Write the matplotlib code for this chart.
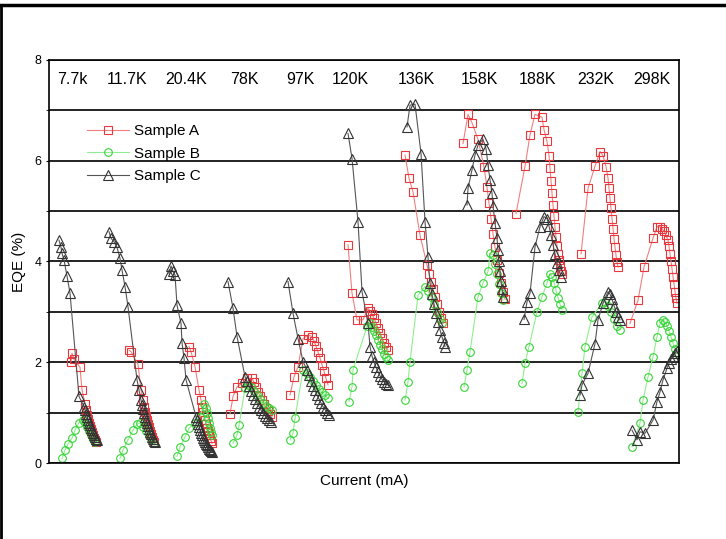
import matplotlib
matplotlib.use('Agg')
import matplotlib.pyplot as plt
from matplotlib.lines import Line2D

plt.rcParams['font.family'] = ['Liberation Sans', 'DejaVu Sans']

# temperature labels and where they sit along the current axis
temps = ['7.7k', '11.7K', '20.4K', '78K', '97K', '120K', '136K', '158K', '188K', '232K', '298K']
temp_x = [23, 78, 137, 195, 251, 301, 367, 430, 488, 547, 603]

# Sample A (red squares), one list per temperature
a_x = [
    [22, 23, 25, 31, 33, 36, 37, 38, 39, 40, 41, 42, 43, 44, 45, 46, 47],
    [80, 82, 89, 92, 94, 95, 96, 97, 98, 99, 100, 101, 102, 103, 104, 105],
    [140, 142, 146, 150, 152, 153, 154, 155, 156, 157, 158, 159, 160, 161, 162, 163],
    [181, 184, 188, 193, 198, 203, 205, 207, 209, 211, 213, 215, 217, 219, 221, 223],
    [241, 245, 249, 254, 259, 263, 265, 267, 269, 271, 273, 275, 277, 279],
    [299, 303, 308, 314, 319, 321, 323, 325, 327, 329, 331, 333, 335, 337, 339],
    [356, 360, 364, 371, 378, 380, 382, 384, 386, 388, 390, 392, 394],
    [414, 419, 423, 429, 435, 438, 440, 442, 444, 446, 448, 450, 452, 454, 456],
    [467, 476, 481, 486, 493, 495, 498, 500, 501, 502, 503, 504, 505, 506, 507, 508, 509, 510, 511, 512, 513],
    [532, 539, 546, 551, 554, 557, 559, 560, 561, 562, 563, 564, 565, 566, 567, 568, 569],
    [581, 589, 595, 604, 608, 611, 613, 615, 617, 619, 620, 621, 622, 623, 624, 625, 626, 627, 628],
]
a_y = [
    [2.01, 2.18, 2.06, 1.90, 1.45, 1.18, 1.05, 0.95, 0.87, 0.80, 0.73, 0.67, 0.61, 0.55, 0.50, 0.45, 0.41],
    [2.24, 2.21, 1.96, 1.45, 1.25, 1.12, 1.02, 0.93, 0.85, 0.78, 0.71, 0.64, 0.57, 0.51, 0.46, 0.41],
    [2.31, 2.21, 1.91, 1.45, 1.25, 1.12, 1.02, 0.93, 0.85, 0.77, 0.70, 0.63, 0.56, 0.50, 0.44, 0.39],
    [0.97, 1.32, 1.51, 1.58, 1.68, 1.68, 1.60, 1.50, 1.41, 1.33, 1.25, 1.17, 1.10, 1.03, 0.97, 0.92],
    [1.35, 1.71, 1.91, 2.47, 2.54, 2.51, 2.42, 2.32, 2.20, 2.08, 1.95, 1.82, 1.68, 1.55],
    [4.33, 3.37, 2.84, 2.84, 3.07, 3.02, 2.95, 2.87, 2.78, 2.68, 2.58, 2.48, 2.38, 2.30, 2.24],
    [6.11, 5.65, 5.38, 4.52, 3.93, 3.75, 3.60, 3.45, 3.30, 3.15, 3.00, 2.88, 2.77],
    [6.34, 6.92, 6.75, 6.42, 5.87, 5.47, 5.15, 4.85, 4.55, 4.28, 4.02, 3.78, 3.57, 3.40, 3.25],
    [4.95, 5.89, 6.51, 6.92, 6.86, 6.61, 6.38, 6.10, 5.85, 5.60, 5.35, 5.12, 4.90, 4.68, 4.48, 4.30, 4.15, 4.02, 3.90, 3.80, 3.75],
    [4.15, 5.45, 5.89, 6.18, 6.10, 5.88, 5.65, 5.45, 5.25, 5.05, 4.85, 4.65, 4.45, 4.28, 4.12, 3.98, 3.89],
    [2.77, 3.23, 3.89, 4.46, 4.69, 4.69, 4.65, 4.60, 4.52, 4.42, 4.30, 4.15, 4.00, 3.85, 3.70, 3.55, 3.40, 3.27, 3.17],
]

# Sample B (green circles)
b_x = [
    [13, 16, 19, 23, 26, 30, 34, 36, 38, 40, 42, 44, 46],
    [71, 74, 79, 84, 88, 91, 94, 97, 100, 103, 105],
    [128, 131, 136, 140, 146, 151, 155, 157, 158, 159, 160, 161, 162, 163],
    [184, 188, 190, 196, 199, 202, 205, 208, 211, 214, 217, 220, 223],
    [241, 244, 246, 254, 258, 261, 264, 267, 270, 273, 276, 279],
    [300, 303, 304, 318, 321, 323, 325, 327, 329, 331, 333, 335, 337, 339],
    [356, 359, 361, 369, 376, 379, 382, 385, 388, 391, 393],
    [415, 418, 421, 429, 434, 439, 441, 444, 446, 448, 450, 452, 454],
    [473, 476, 480, 488, 493, 498, 501, 503, 505, 507, 509, 511, 513],
    [529, 533, 536, 543, 553, 556, 559, 562, 565, 568, 571],
    [583, 591, 594, 599, 604, 608, 611, 614, 616, 618, 620, 622, 624, 626, 628],
]
b_y = [
    [0.09, 0.26, 0.38, 0.49, 0.65, 0.80, 0.85, 0.80, 0.72, 0.64, 0.56, 0.48, 0.42],
    [0.09, 0.26, 0.46, 0.65, 0.77, 0.80, 0.72, 0.63, 0.54, 0.46, 0.40],
    [0.13, 0.32, 0.52, 0.69, 0.79, 0.92, 1.18, 1.10, 1.00, 0.90, 0.80, 0.70, 0.62, 0.55],
    [0.39, 0.56, 0.75, 1.48, 1.55, 1.50, 1.42, 1.35, 1.27, 1.20, 1.14, 1.09, 1.05],
    [0.46, 0.59, 0.89, 1.85, 1.78, 1.70, 1.62, 1.55, 1.47, 1.40, 1.34, 1.28],
    [1.22, 1.51, 1.85, 2.71, 2.77, 2.70, 2.62, 2.53, 2.44, 2.35, 2.26, 2.17, 2.10, 2.04],
    [1.25, 1.61, 2.01, 3.33, 3.50, 3.42, 3.30, 3.15, 3.00, 2.86, 2.77],
    [1.51, 1.85, 2.21, 3.30, 3.57, 3.80, 4.16, 4.13, 3.95, 3.75, 3.55, 3.38, 3.23],
    [1.58, 1.98, 2.31, 3.00, 3.30, 3.57, 3.76, 3.70, 3.58, 3.43, 3.28, 3.15, 3.04],
    [1.02, 1.78, 2.31, 2.90, 3.17, 3.20, 3.12, 3.00, 2.85, 2.72, 2.64],
    [0.32, 0.79, 1.25, 1.71, 2.11, 2.51, 2.77, 2.84, 2.80, 2.72, 2.62, 2.50, 2.38, 2.27, 2.18],
]

# Sample C (black triangles)
c_x = [
    [10, 12, 13, 15, 18, 21, 30, 35, 36, 37, 38, 39, 40, 41, 42, 43, 44, 45, 46, 47, 48],
    [60, 62, 65, 68, 71, 73, 76, 79, 88, 90, 92, 93, 94, 95, 96, 97, 98, 99, 100, 101, 102, 103, 104, 105, 106],
    [120, 122, 124, 126, 128, 132, 133, 135, 137, 147, 148, 149, 150, 151, 152, 153, 154, 155, 156, 157, 158, 159, 160, 161, 162, 163],
    [179, 184, 188, 196, 198, 200, 202, 204, 206, 208, 210, 212, 214, 216, 218, 220, 222],
    [239, 244, 249, 254, 258, 260, 262, 264, 266, 268, 270, 272, 274, 276, 278, 280],
    [299, 303, 309, 313, 319, 321, 323, 325, 327, 329, 331, 333, 335, 337, 339],
    [358, 361, 366, 372, 376, 379, 381, 383, 385, 387, 389, 391, 393, 395, 396],
    [418, 419, 423, 426, 429, 434, 437, 439, 441, 443, 444, 446, 448, 449, 450, 451, 452, 453, 454],
    [475, 478, 481, 486, 491, 495, 498, 500, 502, 504, 506, 508, 510, 512],
    [531, 533, 539, 546, 549, 554, 559, 561, 563, 565, 567, 569, 571],
    [583, 588, 591, 596, 604, 608, 611, 614, 618, 620, 622, 624, 626, 628],
]
c_y = [
    [4.42, 4.28, 4.16, 4.03, 3.71, 3.37, 1.32, 1.12, 1.05, 0.98, 0.92, 0.86, 0.80, 0.75, 0.70, 0.65, 0.60, 0.56, 0.52, 0.48, 0.45],
    [4.59, 4.46, 4.39, 4.28, 4.06, 3.83, 3.50, 3.10, 1.65, 1.45, 1.25, 1.15, 1.07, 0.99, 0.92, 0.85, 0.79, 0.73, 0.67, 0.62, 0.57, 0.52, 0.48, 0.44, 0.41],
    [3.76, 3.91, 3.80, 3.73, 3.13, 2.77, 2.39, 2.08, 1.65, 0.92, 0.85, 0.78, 0.72, 0.66, 0.60, 0.55, 0.50, 0.46, 0.42, 0.38, 0.35, 0.31, 0.28, 0.26, 0.24, 0.22],
    [3.60, 3.07, 2.51, 1.71, 1.62, 1.52, 1.43, 1.35, 1.27, 1.19, 1.12, 1.05, 0.99, 0.94, 0.89, 0.85, 0.82],
    [3.60, 2.97, 2.47, 2.01, 1.85, 1.74, 1.63, 1.53, 1.44, 1.35, 1.27, 1.19, 1.12, 1.06, 1.00, 0.96],
    [6.54, 6.04, 4.79, 3.40, 2.77, 2.31, 2.12, 2.00, 1.90, 1.81, 1.73, 1.66, 1.61, 1.57, 1.55],
    [6.67, 7.10, 7.12, 6.14, 4.79, 4.09, 3.57, 3.35, 3.15, 2.97, 2.80, 2.64, 2.50, 2.38, 2.31],
    [5.12, 5.45, 5.82, 6.11, 6.31, 6.42, 6.24, 5.91, 5.62, 5.35, 5.10, 4.76, 4.46, 4.22, 4.00, 3.80, 3.62, 3.45, 3.30],
    [2.85, 3.20, 3.37, 4.29, 4.69, 4.89, 4.85, 4.70, 4.52, 4.33, 4.15, 3.97, 3.82, 3.70],
    [1.35, 1.55, 1.78, 2.37, 2.84, 3.17, 3.40, 3.35, 3.25, 3.12, 3.00, 2.90, 2.84],
    [0.65, 0.46, 0.62, 0.59, 0.85, 1.22, 1.41, 1.65, 1.88, 1.98, 2.06, 2.12, 2.18, 2.22],
]

fig = plt.figure(figsize=(7.26, 5.39), dpi=100)
ax = fig.add_axes([0.0675, 0.141, 0.8678, 0.748])

styles = [
    ('Sample A', a_x, a_y, dict(marker='s', color='#f08080', mec='#e8383d', ms=5.5)),
    ('Sample B', b_x, b_y, dict(marker='o', color='#90ee90', mec='#35d435', ms=5.5)),
    ('Sample C', c_x, c_y, dict(marker='^', color='#555555', mec='#333333', ms=7)),
]
for name, xs, ys, st in styles:
    for i in range(len(xs)):
        ax.plot(xs[i], ys[i], lw=0.8, mfc='none', mew=0.8,
                label=name if i == 0 else None, **st)

for t, x in zip(temps, temp_x):
    ax.text(x, 7.6, t, ha='center', va='center', fontsize=11.5)

ax.set_xlim(0, 630)
ax.set_ylim(0, 8)
ax.set_xticks([])
ax.set_yticks([0, 2, 4, 6, 8])
ax.set_yticks([1, 3, 5, 7], minor=True)
ax.yaxis.grid(True, which='both', color='#222222', lw=1.4)
ax.tick_params(axis='y', which='both', length=2, labelsize=9)
for s in ax.spines.values():
    s.set_linewidth(1.2)

ax.set_xlabel('Current (mA)', fontsize=11, labelpad=8)
ax.set_ylabel('EQE (%)', fontsize=11, labelpad=6)

ax.legend(loc='upper left', bbox_to_anchor=(0.05, 0.855), frameon=False,
          fontsize=11, handlelength=2.8, handletextpad=0.3, labelspacing=0.55,
          borderaxespad=0)

# outer frame lines of the original picture
fig.add_artist(Line2D([0, 1], [0.99, 0.99], transform=fig.transFigure, color='black', lw=2.5))
fig.add_artist(Line2D([0.002, 0.002], [0, 0.99], transform=fig.transFigure, color='black', lw=2))

fig.savefig('out.png', dpi=100)
